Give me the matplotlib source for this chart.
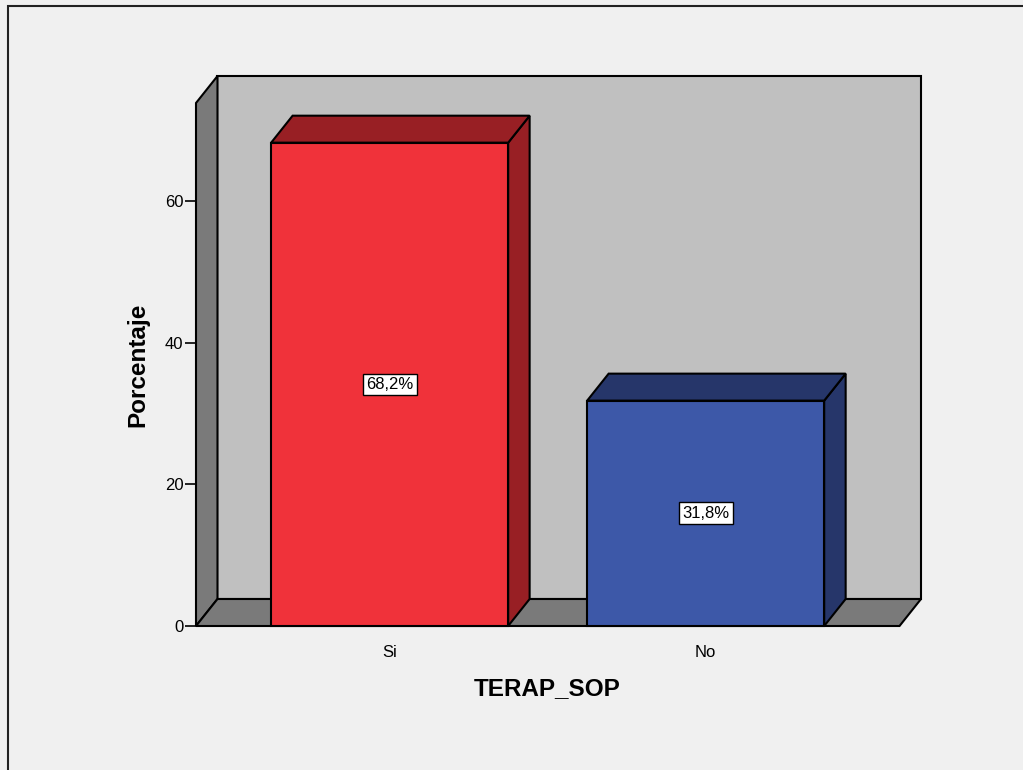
import matplotlib
matplotlib.use("Agg")
import matplotlib.pyplot as plt
from matplotlib.patches import Polygon, Rectangle

plt.rcParams['font.family'] = ['Liberation Sans', 'DejaVu Sans']

# data
categories = ["Si", "No"]
percentages = [68.2, 31.8]
value_labels = ["68,2%", "31,8%"]
yticks = [0, 20, 40, 60]

front_colors = ["#f0323a", "#3d58a8"]
dark_colors = ["#981f24", "#26366a"]

# 3D look
bar_w = 0.75
dx, dy = 0.068, 3.81
x0, x1 = -0.6127, 1.6134
ytop = 73.8
wall_dark = "#7a7a7a"
wall_back = "#c0c0c0"
lw = 1.5

fig = plt.figure(figsize=(10.23, 7.7), dpi=100)
fig.patch.set_facecolor("#f0f0f0")
fig.patches.append(Rectangle((8 / 1023, -0.1), 1.2, 1.1 - 6 / 770,
                             transform=fig.transFigure, fill=False,
                             edgecolor="#222222", linewidth=1.5))

ax = fig.add_axes([196 / 1023, 144 / 770, 725 / 1023, 550 / 770])
ax.set_xlim(x0, x1 + dx)
ax.set_ylim(0, ytop + dy)
ax.patch.set_visible(False)
for s in ax.spines.values():
    s.set_visible(False)

def poly(pts, fc, z=1):
    ax.add_patch(Polygon(pts, closed=True, facecolor=fc, edgecolor="black",
                         linewidth=lw, joinstyle="miter", clip_on=False, zorder=z))

# walls
poly([(x0 + dx, dy), (x1 + dx, dy), (x1 + dx, ytop + dy), (x0 + dx, ytop + dy)], wall_back, 1)
poly([(x0, 0), (x0 + dx, dy), (x0 + dx, ytop + dy), (x0, ytop)], wall_dark, 2)
poly([(x0, 0), (x1, 0), (x1 + dx, dy), (x0 + dx, dy)], wall_dark, 2)

# bars
for i, v in enumerate(percentages):
    l, r = i - bar_w / 2, i + bar_w / 2
    poly([(r, 0), (r + dx, dy), (r + dx, v + dy), (r, v)], dark_colors[i], 3)
    poly([(l, v), (r, v), (r + dx, v + dy), (l + dx, v + dy)], dark_colors[i], 3)
    poly([(l, 0), (r, 0), (r, v), (l, v)], front_colors[i], 4)
    ax.text(i, v / 2, value_labels[i], ha="center", va="center", fontsize=12,
            zorder=5, bbox=dict(boxstyle="square,pad=0.2", facecolor="white",
                                edgecolor="black", linewidth=1))

ax.set_yticks(yticks)
ax.set_yticklabels([str(t) for t in yticks], fontsize=12)
ax.tick_params(axis="y", direction="out", length=8, width=1.2, pad=1)
ax.set_xticks(range(len(categories)))
ax.set_xticklabels(categories, fontsize=12)
ax.tick_params(axis="x", length=0, pad=14)

ax.set_ylabel("Porcentaje", fontsize=17.5, fontweight="bold")
ax.set_xlabel("TERAP_SOP", fontsize=17.5, fontweight="bold")
ax.yaxis.set_label_coords(-0.0637, 0.4755)
ax.xaxis.set_label_coords(0.4848, -0.092)

fig.savefig("out.png", dpi=100, facecolor=fig.get_facecolor())
